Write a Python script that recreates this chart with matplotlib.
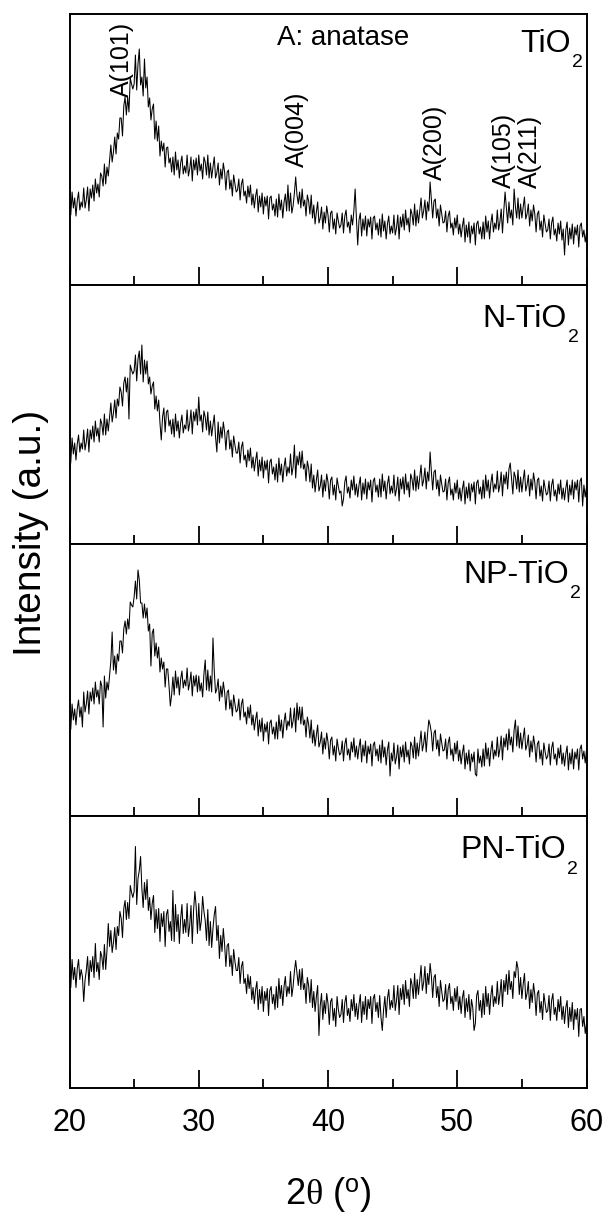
import numpy as np
import matplotlib
matplotlib.use("Agg")
import matplotlib.pyplot as plt
from matplotlib.ticker import MultipleLocator

plt.rcParams['font.family'] = ['Liberation Sans', 'DejaVu Sans']
plt.rcParams['mathtext.fontset'] = 'custom'
plt.rcParams['mathtext.rm'] = 'Liberation Sans'
plt.rcParams['mathtext.it'] = 'Liberation Serif'

# 2-theta scan positions (0.1 deg step)
two_theta = np.round(np.linspace(20, 60, 401), 1)

# Intensities (arbitrary units), one row per degree
tio2 = [
    88, 70, 93, 77, 87, 69, 84, 93, 75, 83,
    78, 97, 77, 85, 98, 74, 96, 87, 100, 84,
    106, 92, 101, 88, 112, 109, 99, 121, 101, 118,
    109, 125, 140, 123, 133, 148, 131, 152, 146, 167,
    167, 149, 179, 188, 170, 188, 173, 207, 201, 196,
    201, 230, 195, 221, 236, 200, 208, 189, 226, 197,
    208, 178, 187, 165, 176, 181, 146, 164, 144, 159,
    129, 144, 134, 142, 118, 137, 138, 122, 127, 113,
    128, 110, 133, 115, 125, 107, 122, 129, 111, 119,
    112, 130, 109, 116, 128, 104, 125, 115, 127, 110,
    130, 114, 121, 106, 128, 123, 110, 130, 107, 122,
    107, 118, 128, 107, 112, 122, 100, 116, 106, 122,
    113, 95, 113, 115, 96, 105, 89, 110, 101, 93,
    95, 106, 85, 101, 106, 89, 94, 82, 99, 88,
    100, 80, 91, 77, 89, 96, 73, 89, 78, 92,
    71, 88, 79, 89, 66, 87, 89, 75, 81, 69,
    86, 68, 91, 75, 85, 67, 83, 91, 74, 100,
    74, 92, 72, 79, 92, 108, 90, 81, 93, 77,
    96, 79, 85, 69, 90, 84, 71, 90, 67, 80,
    61, 73, 83, 62, 67, 78, 56, 73, 62, 79,
    70, 53, 72, 74, 56, 66, 51, 72, 64, 57,
    60, 72, 52, 69, 75, 58, 63, 52, 70, 60,
    74, 96, 66, 40, 65, 72, 49, 66, 55, 69,
    49, 66, 58, 68, 46, 67, 69, 55, 62, 50,
    66, 48, 71, 54, 64, 46, 61, 69, 51, 59,
    52, 70, 50, 57, 70, 46, 68, 58, 71, 55,
    75, 60, 67, 53, 76, 71, 60, 81, 59, 75,
    62, 75, 87, 67, 74, 85, 65, 83, 74, 103,
    85, 67, 84, 86, 67, 76, 59, 80, 71, 62,
    63, 74, 53, 69, 74, 57, 62, 50, 67, 57,
    70, 51, 61, 48, 59, 67, 43, 60, 48, 63,
    42, 59, 51, 62, 40, 61, 64, 51, 58, 46,
    63, 46, 69, 53, 64, 46, 62, 71, 53, 62,
    56, 75, 55, 63, 76, 52, 74, 93, 78, 62,
    83, 67, 75, 60, 96, 78, 67, 87, 66, 81,
    67, 78, 88, 66, 71, 81, 59, 75, 64, 80,
    71, 53, 71, 74, 55, 64, 48, 70, 61, 53,
    55, 66, 46, 62, 68, 50, 56, 44, 62, 51,
    64, 45, 56, 30, 55, 63, 40, 57, 46, 61,
    41, 58, 50, 60, 38, 59, 62, 48, 55, 43,
    52,
]

n_tio2 = [
    72, 82, 106, 90, 101, 84, 100, 109, 92, 101,
    95, 114, 94, 102, 115, 92, 114, 105, 118, 102,
    123, 108, 116, 102, 125, 120, 109, 130, 109, 125,
    113, 127, 141, 122, 131, 144, 126, 145, 138, 157,
    152, 138, 161, 167, 152, 166, 125, 179, 174, 170,
    173, 189, 163, 185, 193, 170, 199, 162, 184, 170,
    183, 160, 167, 150, 158, 162, 135, 148, 133, 144,
    121, 104, 127, 136, 112, 132, 134, 118, 124, 110,
    125, 107, 130, 113, 123, 106, 121, 129, 111, 119,
    115, 134, 113, 121, 134, 110, 132, 123, 135, 119,
    147, 123, 129, 112, 133, 127, 114, 132, 109, 123,
    108, 119, 129, 107, 92, 122, 101, 117, 106, 122,
    112, 94, 112, 114, 95, 104, 87, 108, 99, 91,
    91, 102, 81, 97, 102, 84, 89, 77, 94, 83,
    96, 76, 87, 73, 84, 92, 68, 84, 73, 87,
    66, 83, 74, 84, 61, 82, 85, 70, 77, 64,
    80, 62, 86, 69, 80, 62, 77, 86, 68, 77,
    71, 90, 69, 77, 99, 66, 88, 79, 92, 76,
    93, 75, 80, 63, 83, 76, 62, 80, 56, 69,
    52, 64, 74, 53, 58, 69, 47, 64, 53, 70,
    62, 45, 64, 67, 49, 59, 44, 66, 58, 51,
    53, 38, 45, 62, 68, 51, 57, 46, 64, 54,
    68, 49, 60, 47, 59, 67, 44, 61, 50, 65,
    45, 62, 54, 64, 42, 63, 66, 52, 59, 47,
    65, 47, 70, 53, 63, 45, 60, 68, 50, 58,
    51, 69, 48, 55, 67, 43, 65, 55, 67, 50,
    70, 54, 62, 47, 70, 65, 54, 74, 53, 68,
    55, 67, 79, 58, 64, 76, 55, 72, 63, 92,
    72, 54, 72, 74, 55, 64, 48, 69, 60, 52,
    53, 65, 44, 61, 67, 49, 55, 44, 61, 51,
    64, 45, 56, 43, 55, 63, 40, 57, 46, 61,
    43, 60, 52, 62, 40, 61, 64, 50, 57, 45,
    64, 46, 69, 53, 64, 46, 61, 70, 52, 60,
    55, 73, 52, 59, 72, 48, 69, 60, 72, 55,
    75, 81, 66, 50, 72, 67, 55, 74, 52, 67,
    52, 64, 74, 53, 59, 69, 48, 65, 54, 71,
    62, 45, 64, 66, 48, 58, 43, 64, 56, 49,
    51, 63, 43, 59, 65, 48, 54, 43, 60, 50,
    64, 45, 56, 44, 56, 64, 42, 59, 49, 64,
    45, 62, 54, 64, 42, 63, 66, 38, 59, 47,
    57,
]

np_tio2 = [
    83, 87, 112, 96, 107, 91, 107, 116, 99, 109,
    89, 124, 104, 112, 125, 102, 124, 115, 128, 112,
    134, 119, 126, 112, 135, 130, 89, 140, 118, 134,
    126, 141, 155, 184, 146, 160, 142, 162, 155, 175,
    175, 163, 187, 195, 182, 197, 187, 214, 211, 209,
    219, 235, 217, 246, 236, 213, 213, 198, 212, 198,
    208, 185, 192, 150, 183, 187, 160, 173, 158, 169,
    144, 158, 147, 154, 129, 147, 147, 130, 110, 121,
    139, 121, 145, 128, 139, 121, 137, 145, 128, 136,
    130, 148, 126, 133, 144, 120, 140, 130, 141, 124,
    140, 125, 133, 119, 142, 156, 126, 146, 125, 140,
    124, 178, 145, 123, 127, 137, 115, 130, 119, 134,
    124, 106, 124, 126, 107, 116, 100, 121, 112, 104,
    106, 117, 96, 112, 117, 99, 104, 92, 109, 98,
    111, 91, 101, 86, 97, 104, 80, 96, 84, 98,
    75, 92, 84, 94, 72, 93, 96, 82, 89, 77,
    94, 77, 101, 85, 96, 78, 94, 103, 86, 95,
    90, 108, 88, 95, 108, 84, 113, 96, 109, 92,
    109, 91, 96, 79, 99, 92, 78, 96, 73, 86,
    70, 81, 91, 69, 74, 84, 62, 78, 67, 83,
    74, 57, 76, 79, 61, 70, 55, 77, 68, 61,
    63, 75, 55, 72, 78, 61, 67, 56, 74, 64,
    78, 59, 70, 57, 69, 77, 54, 71, 60, 75,
    53, 70, 62, 72, 50, 71, 74, 60, 67, 55,
    71, 53, 76, 59, 69, 51, 66, 74, 40, 63,
    55, 73, 52, 59, 71, 47, 69, 59, 71, 54,
    74, 59, 66, 52, 74, 70, 58, 79, 57, 73,
    60, 73, 85, 65, 72, 84, 64, 82, 96, 91,
    83, 65, 83, 86, 67, 76, 60, 82, 73, 65,
    66, 77, 57, 73, 79, 61, 67, 55, 73, 62,
    75, 55, 66, 52, 63, 71, 47, 63, 52, 66,
    45, 62, 54, 64, 42, 40, 67, 53, 60, 49,
    67, 50, 73, 57, 68, 50, 66, 75, 57, 66,
    60, 79, 59, 67, 80, 56, 78, 69, 82, 66,
    87, 71, 79, 64, 86, 96, 70, 90, 68, 83,
    67, 78, 88, 66, 71, 81, 59, 75, 64, 80,
    71, 54, 72, 75, 57, 66, 51, 73, 64, 57,
    60, 72, 51, 68, 74, 57, 62, 51, 68, 58,
    71, 52, 63, 50, 62, 70, 46, 63, 52, 67,
    47, 64, 57, 67, 46, 67, 71, 57, 65, 53,
    66,
]

pn_tio2 = [
    121, 100, 128, 108, 120, 100, 119, 128, 108, 118,
    111, 86, 107, 117, 131, 102, 127, 116, 131, 110,
    144, 116, 125, 108, 136, 131, 118, 143, 118, 137,
    164, 141, 157, 135, 145, 160, 138, 161, 152, 176,
    169, 150, 179, 187, 168, 185, 169, 202, 195, 190,
    196, 241, 183, 209, 217, 231, 199, 180, 205, 188,
    208, 177, 190, 168, 184, 192, 155, 178, 159, 179,
    146, 174, 161, 176, 141, 173, 178, 156, 166, 147,
    197, 146, 183, 156, 173, 144, 169, 183, 154, 168,
    155, 184, 151, 162, 182, 144, 177, 196, 181, 154,
    184, 157, 167, 191, 176, 167, 147, 178, 142, 166,
    140, 159, 173, 181, 147, 162, 129, 152, 136, 159,
    143, 121, 142, 144, 121, 132, 112, 138, 126, 117,
    117, 130, 104, 121, 126, 104, 109, 94, 113, 99,
    111, 88, 100, 84, 98, 106, 78, 98, 84, 101,
    76, 96, 87, 99, 72, 97, 101, 84, 93, 78,
    101, 80, 109, 89, 102, 82, 101, 111, 91, 101,
    94, 116, 91, 101, 116, 127, 114, 102, 118, 98,
    119, 98, 104, 84, 110, 102, 85, 108, 80, 96,
    76, 91, 102, 52, 82, 94, 68, 87, 74, 94,
    84, 63, 86, 89, 67, 79, 61, 91, 78, 70,
    73, 88, 65, 85, 92, 72, 79, 66, 88, 77,
    93, 71, 84, 68, 83, 93, 65, 86, 73, 91,
    68, 88, 79, 91, 64, 89, 93, 76, 85, 70,
    92, 70, 57, 78, 91, 70, 89, 98, 78, 87,
    80, 102, 77, 87, 102, 73, 99, 88, 103, 83,
    107, 89, 98, 81, 109, 103, 89, 114, 89, 108,
    93, 108, 122, 97, 105, 121, 94, 114, 103, 124,
    111, 90, 110, 113, 90, 101, 81, 107, 96, 86,
    88, 103, 78, 98, 104, 84, 91, 77, 99, 86,
    101, 78, 91, 74, 90, 97, 70, 89, 76, 93,
    68, 88, 80, 57, 64, 92, 97, 77, 87, 70,
    94, 73, 101, 81, 94, 73, 92, 102, 81, 91,
    84, 106, 83, 93, 108, 81, 107, 96, 113, 93,
    117, 98, 106, 89, 116, 110, 126, 119, 93, 110,
    89, 103, 114, 88, 94, 106, 79, 98, 85, 104,
    93, 72, 94, 97, 75, 86, 68, 94, 84, 75,
    77, 92, 67, 87, 94, 73, 80, 67, 88, 76,
    91, 68, 81, 64, 80, 87, 60, 80, 66, 85,
    58, 78, 68, 79, 51, 78, 79, 61, 71, 54,
    64,
]

sample_names = ["TiO", "N-TiO", "NP-TiO", "PN-TiO"]
series = [tio2, n_tio2, np_tio2, pn_tio2]

peak_labels = ["A(101)", "A(004)", "A(200)", "A(105)", "A(211)"]
peak_label_x = [24.07, 37.57, 48.26, 53.6, 55.6]
peak_label_y = [188, 118, 105, 97, 97]

x_ticks = [20, 30, 40, 50, 60]

for s in series:
    assert len(s) == len(two_theta)

W, H = 607, 1213
fig = plt.figure(figsize=(W / 100, H / 100), dpi=100)

left_px, right_px = 69.5, 586.5
panels_px = [(14, 285), (285, 544), (544, 816), (816, 1087.5)]
name_x = [58.8, 58.5, 58.65, 58.4]
name_base = [233, 217, 233, 229]

axes = []
for i, (top, bot) in enumerate(panels_px):
    ax = fig.add_axes([left_px / W, 1 - bot / H, (right_px - left_px) / W, (bot - top) / H])
    ax.plot(two_theta, series[i], color='black', lw=0.75)
    ax.set_xlim(20, 60)
    ax.set_ylim(0, bot - top)
    ax.set_yticks([])
    ax.xaxis.set_major_locator(MultipleLocator(10))
    ax.xaxis.set_minor_locator(MultipleLocator(5))
    ax.tick_params(axis='x', which='major', direction='in', length=13, width=1.3,
                   labelsize=22, pad=14.5, labelbottom=(i == 3))
    ax.tick_params(axis='x', which='minor', direction='in', length=6.5, width=1.3)
    for sp in ax.spines.values():
        sp.set_linewidth(1.4)
    t = ax.text(name_x[i], name_base[i], sample_names[i], ha='right', va='baseline', fontsize=23)
    ax.annotate('2', xy=(1, 0), xycoords=t, xytext=(0.5, -6), textcoords='offset points',
                ha='left', va='baseline', fontsize=14)
    axes.append(ax)

ax0 = axes[0]
ax0.text(41.2, 240, "A: anatase", ha='center', va='baseline', fontsize=20)
for lab, px, py in zip(peak_labels, peak_label_x, peak_label_y):
    ax0.text(px, py, lab, rotation=90, ha='center', va='bottom', fontsize=18)

axes[3].set_xticks(x_ticks)

fig.text(31 / W, 1 - 532.5 / H, "Intensity (a.u.)", rotation=90, ha='center', va='center', fontsize=28)
fig.text(328 / W, 1 - 1195 / H, r"2$\theta$ ($^{\rm o}$)", ha='center', va='center', fontsize=26)

fig.savefig("out.png", dpi=100)
